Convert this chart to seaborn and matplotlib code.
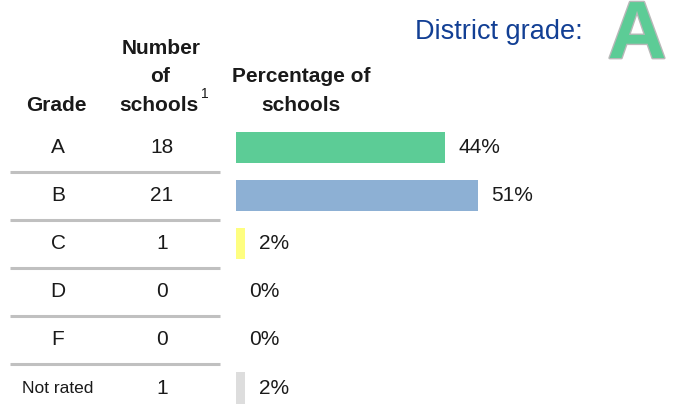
import matplotlib
matplotlib.use("Agg")
import matplotlib.pyplot as plt
import matplotlib.transforms as mtransforms
import matplotlib.patheffects as pe
import seaborn as sns

# data
grades = ["A", "B", "C", "D", "F", "Not rated"]
counts = [18, 21, 1, 0, 0, 1]
pct = [44, 51, 2, 0, 0, 2]
bar_colors = ["#5ccc96", "#8db0d4", "#fefe80", "#cccccc", "#cccccc", "#dddddd"]
district_grade = "A"

sns.set_theme(style="white")
plt.rcParams["font.family"] = ["Liberation Sans", "DejaVu Sans"]
txt = "#1a1a1a"

W, H = 673, 411
fig = plt.figure(figsize=(W / 100, H / 100), dpi=100)

# bar axes: starts at x=236px, 1% = 4.75px
ax = fig.add_axes([236 / W, 0, 1 - 236 / W, 1 - 123.5 / H])
sns.barplot(x=pct, y=grades, hue=grades, palette=bar_colors, legend=False,
            orient="h", width=0.65, saturation=1, linewidth=0, ax=ax)
ax.set_xlim(0, (W - 236) / 4.75)
ax.set_ylim(5 + 23 / 48.1, -0.5)
ax.axis("off")

for i, v in enumerate(pct):
    ax.annotate(f"{v}%", (v, i), xytext=(9.4, 0), textcoords="offset points",
                ha="left", va="center", fontsize=15, color=txt)

# table columns (figure x, data y)
tr = mtransforms.blended_transform_factory(fig.transFigure, ax.transData)
for i, (g, c) in enumerate(zip(grades, counts)):
    ax.text(58 / W, i, g, transform=tr, ha="center", va="center",
            fontsize=12.5 if g == "Not rated" else 15, color=txt)
    ax.text(162 / W, i, str(c), transform=tr, ha="center", va="center",
            fontsize=15, color=txt)
for i in range(len(grades) - 1):
    ax.plot([10 / W, 220 / W], [i + 0.5, i + 0.5], transform=tr,
            color="#c0c0c0", lw=2.2, clip_on=False, solid_capstyle="butt")

# headers
hdr = dict(fontsize=15, color=txt, fontweight="bold", va="baseline", ha="center")
def fy(py):
    return 1 - py / H
fig.text(56 / W, fy(111), "Grade", **hdr)
fig.text(161 / W, fy(54), "Number", **hdr)
fig.text(160 / W, fy(82), "of", **hdr)
fig.text(159 / W, fy(111), "schools", **hdr)
fig.text(201 / W, fy(98), "1", fontsize=10, color=txt, va="baseline", ha="left")
fig.text(301 / W, fy(82), "Percentage of", **hdr)
fig.text(301 / W, fy(111), "schools", **hdr)

# district grade
fig.text(583 / W, fy(39), "District grade:", fontsize=19.5, color="#123f94",
         ha="right", va="baseline")
fig.text(637 / W, fy(58), district_grade, fontsize=58.5, fontweight="bold",
         color="#5ccc96", ha="center", va="baseline",
         path_effects=[pe.withStroke(linewidth=2, foreground="#b8b8b8")])

fig.savefig("out.png", dpi=100)
